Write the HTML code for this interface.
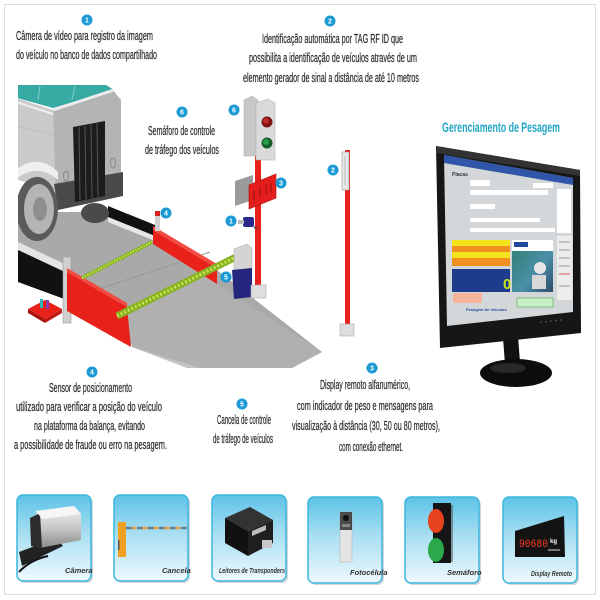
<!DOCTYPE html>
<html><head><meta charset="utf-8">
<style>
html,body{margin:0;padding:0;background:#fff;}
svg{display:block;}
.t{font-family:"Liberation Sans Narrow","Liberation Sans",sans-serif;font-size:12.5px;fill:#2e2e2e;stroke:#2e2e2e;stroke-width:0.25;}
.n{font-family:"Liberation Sans",sans-serif;font-size:7px;font-weight:bold;fill:#fff;text-anchor:middle;}
.c{font-family:"Liberation Sans",sans-serif;font-size:7.5px;font-style:italic;font-weight:bold;fill:#333;}
.s{font-family:"Liberation Sans",sans-serif;font-size:4px;fill:#333;}
</style></head>
<body>
<svg width="600" height="600" viewBox="0 0 600 600" xmlns="http://www.w3.org/2000/svg">
<defs>
<linearGradient id="card" x1="0" y1="0" x2="0" y2="1">
<stop offset="0" stop-color="#5cc3e6"/><stop offset="0.45" stop-color="#a8def2"/><stop offset="1" stop-color="#eef9fd"/>
</linearGradient>
<linearGradient id="silver" x1="0" y1="0" x2="0" y2="1">
<stop offset="0" stop-color="#f4f4f4"/><stop offset="0.5" stop-color="#c9c9c9"/><stop offset="1" stop-color="#8a8a8a"/>
</linearGradient>
<linearGradient id="photo" x1="0" y1="0" x2="1" y2="1">
<stop offset="0" stop-color="#2d7d6c"/><stop offset="0.6" stop-color="#4a8fa8"/><stop offset="1" stop-color="#2c4c6a"/>
</linearGradient>
<clipPath id="truckclip"><rect x="18" y="0" width="600" height="600"/></clipPath>
</defs>

<!-- frame -->
<rect x="4.5" y="4.5" width="591" height="590" fill="none" stroke="#dedede"/>

<!-- ===== platform ===== -->
<polygon points="18,212 110,212 153,232 217,270 322,352 292,368 187,368 132,345 67,290 18,268" fill="#a9a9a9"/>
<polygon points="130,335 200,368 187,368 132,347" fill="#c4c4c4"/>
<polygon points="217,284 322,352 292,368 200,368 132,347 127,312 217,270" fill="#b0b0b0"/>
<line x1="90" y1="292" x2="210" y2="252" stroke="#999" stroke-width="1"/>

<!-- black beams -->
<polygon points="18,242 67,265 67,273 18,250" fill="#e4e4e4"/>
<polygon points="18,250 67,273 67,300 18,282" fill="#111"/>
<polygon points="108,206 155,225 155,236 108,217" fill="#111"/>
<polygon points="108,217 155,236 155,241 108,222" fill="#e6e6e6"/>

<!-- truck -->
<g clip-path="url(#truckclip)">
<polygon points="10,85 106,85 114,90 53,108 10,96" fill="#37aaa4"/>
<line x1="40" y1="86" x2="38" y2="100" stroke="#7fd0cc" stroke-width="1"/>
<line x1="75" y1="86" x2="72" y2="100" stroke="#7fd0cc" stroke-width="1"/>
<polygon points="10,96 53,110 56,190 10,178" fill="#cacaca"/>
<polygon points="53,110 113,90 121,100 121,188 56,198" fill="#b4b4b4"/>
<line x1="53" y1="110" x2="114" y2="90" stroke="#ececec" stroke-width="3"/>
<line x1="10" y1="100" x2="53" y2="114" stroke="#eeeeee" stroke-width="2"/>
<line x1="10" y1="125" x2="55" y2="135" stroke="#bdbdbd" stroke-width="1"/>
<!-- bumper -->
<polygon points="54,184 123,172 123,196 58,210" fill="#4a4a4a"/>
<!-- grille -->
<polygon points="73,127 105,121 105,196 75,202" fill="#1c1c1c"/>
<g stroke="#555" stroke-width="1">
<line x1="79" y1="127" x2="80" y2="200"/><line x1="85" y1="126" x2="86" y2="199"/>
<line x1="91" y1="124" x2="92" y2="198"/><line x1="97" y1="123" x2="98" y2="197"/>
</g>
<ellipse cx="66" cy="176" rx="2.5" ry="5" fill="none" stroke="#888"/>
<ellipse cx="113" cy="163" rx="2.5" ry="5" fill="none" stroke="#888"/>
<!-- fender -->
<path d="M10,175 Q35,150 58,172 L58,180 Q35,160 10,184 Z" fill="#efefef"/>
<!-- wheels -->
<ellipse cx="95" cy="213" rx="14" ry="10" fill="#4a4a4a"/>
<ellipse cx="37" cy="209" rx="21" ry="32" fill="#5a5a5a"/>
<ellipse cx="39" cy="209" rx="15" ry="25" fill="#b4b4b4"/>
<ellipse cx="40" cy="209" rx="7" ry="12" fill="#8e8e8e"/>
</g>

<!-- left red pad -->
<polygon points="28,309 45,300 62,309 45,319" fill="#e8221b"/>
<polygon points="28,309 45,319 45,323 28,313" fill="#a8120e"/>
<polygon points="45,319 62,309 62,313 45,323" fill="#c01a14"/>
<rect x="40" y="299" width="3" height="9" fill="#34b3b0"/>
<rect x="46" y="300" width="3" height="9" fill="#8a3bb0"/>

<!-- left post -->
<rect x="63" y="257" width="8" height="66" fill="#cfcfcf" stroke="#9c9c9c" stroke-width="0.6"/>

<!-- red blocks -->
<polygon points="67,272 127,307 131,347 67,311" fill="#e8221b"/>
<polygon points="67,268 127,303 127,307 67,272" fill="#f24a40"/>
<polygon points="153,230 217,268 217,284 153,244" fill="#e8221b"/>
<polygon points="153,226 217,264 217,268 153,230" fill="#f24a40"/>
<rect x="155" y="213" width="5" height="18" fill="#d0d0d0"/>
<rect x="155" y="211" width="5" height="5" fill="#d92020"/>

<!-- green beams -->
<line x1="82" y1="278" x2="152" y2="242" stroke="#86b21f" stroke-width="4"/>
<line x1="82" y1="278" x2="152" y2="242" stroke="#c8e25a" stroke-width="2" stroke-dasharray="1.5 1.5"/>
<line x1="117" y1="316" x2="238" y2="256" stroke="#86b21f" stroke-width="7"/>
<line x1="117" y1="316" x2="238" y2="256" stroke="#c8e25a" stroke-width="3" stroke-dasharray="2 2"/>

<!-- barrier box -->
<polygon points="234,249 247,244 252,248 252,268 234,271" fill="#d4d4d4" stroke="#aaa" stroke-width="0.5"/>
<polygon points="232,270 252,268 252,297 234,299" fill="#25267e"/>

<!-- traffic light pole -->
<rect x="255" y="155" width="6" height="132" fill="#e8221b"/>
<rect x="251" y="285" width="15" height="13" fill="#dedede" stroke="#aaa" stroke-width="0.6"/>
<polygon points="244,100 252,96 258,100 258,156 244,156" fill="#c8c8c8" stroke="#aaa" stroke-width="0.5"/>
<polygon points="256,103 268,99 275,103 275,160 256,160" fill="#dadada" stroke="#aaa" stroke-width="0.5"/>
<circle cx="267" cy="122" r="5.5" fill="#7c1616"/><circle cx="266" cy="121" r="3" fill="#c02a2a"/>
<circle cx="267" cy="143" r="5.5" fill="#145f2c"/><circle cx="266" cy="142" r="3" fill="#2aa04a"/>
<!-- display -->
<polygon points="235,181 253,175 253,200 235,206" fill="#9b9b9b"/>
<polygon points="249,185 276,174 276,198 249,209" fill="#e41d1d" stroke="#b01010" stroke-width="0.6"/>
<g stroke="#9a1010" stroke-width="1"><line x1="254" y1="190" x2="254" y2="200"/><line x1="260" y1="187" x2="260" y2="197"/><line x1="266" y1="185" x2="266" y2="195"/><line x1="271" y1="183" x2="271" y2="193"/></g>
<!-- camera -->
<rect x="243" y="217" width="11" height="10" rx="2" fill="#2a2a8c"/>
<rect x="238" y="220" width="6" height="4" fill="#bbb"/>
<line x1="254" y1="227" x2="257" y2="229" stroke="#444" stroke-width="1.5"/>

<!-- pole 2 -->
<rect x="345" y="150" width="5" height="178" fill="#e8221b"/>
<rect x="342" y="152" width="7" height="38" fill="#e9e9e9" stroke="#999" stroke-width="0.6"/>
<line x1="345" y1="156" x2="345" y2="186" stroke="#bbb" stroke-width="1"/>
<rect x="340" y="324" width="14" height="12" fill="#dedede" stroke="#aaa" stroke-width="0.6"/>

<!-- number badges -->
<g>
<circle cx="87" cy="20" r="5.5" fill="#1b9ad6"/><text class="n" x="87" y="22.5">1</text>
<circle cx="330" cy="21" r="5.5" fill="#1b9ad6"/><text class="n" x="330" y="23.5">2</text>
<circle cx="182" cy="112" r="5.5" fill="#1b9ad6"/><text class="n" x="182" y="114.5">6</text>
<circle cx="234" cy="110" r="5.5" fill="#1b9ad6"/><text class="n" x="234" y="112.5">6</text>
<circle cx="281" cy="183" r="5.5" fill="#1b9ad6"/><text class="n" x="281" y="185.5">3</text>
<circle cx="231" cy="221" r="5.5" fill="#1b9ad6"/><text class="n" x="231" y="223.5">1</text>
<circle cx="166" cy="213" r="5.5" fill="#1b9ad6"/><text class="n" x="166" y="215.5">4</text>
<circle cx="226" cy="277" r="5.5" fill="#1b9ad6"/><text class="n" x="226" y="279.5">5</text>
<circle cx="333" cy="170" r="5.5" fill="#1b9ad6"/><text class="n" x="333" y="172.5">2</text>
<circle cx="92" cy="372" r="5.5" fill="#1b9ad6"/><text class="n" x="92" y="374.5">4</text>
<circle cx="242" cy="404" r="5.5" fill="#1b9ad6"/><text class="n" x="242" y="406.5">5</text>
<circle cx="372" cy="368" r="5.5" fill="#1b9ad6"/><text class="n" x="372" y="370.5">3</text>
</g>

<!-- texts -->
<text class="t" x="16" y="40" textLength="137" lengthAdjust="spacingAndGlyphs">Câmera de vídeo para registro da imagem</text>
<text class="t" x="16" y="59" textLength="141" lengthAdjust="spacingAndGlyphs">do veículo no banco de dados compartilhado</text>

<text class="t" x="262" y="43" textLength="141" lengthAdjust="spacingAndGlyphs">Identificação automática  por TAG  RF ID que</text>
<text class="t" x="249" y="62" textLength="168" lengthAdjust="spacingAndGlyphs">possibilita a identificação de veículos através de um</text>
<text class="t" x="243" y="82" textLength="176" lengthAdjust="spacingAndGlyphs">elemento gerador de sinal a distância de até 10 metros</text>

<text class="t" x="148" y="135" textLength="67" lengthAdjust="spacingAndGlyphs">Semáforo de controle</text>
<text class="t" x="145" y="154" textLength="74" lengthAdjust="spacingAndGlyphs">de tráfego dos veículos</text>

<text class="t" x="49" y="392" textLength="83" lengthAdjust="spacingAndGlyphs">Sensor de posicionamento</text>
<text class="t" x="16" y="411" textLength="146" lengthAdjust="spacingAndGlyphs">utilizado para verificar a posição do veículo</text>
<text class="t" x="34" y="430" textLength="111" lengthAdjust="spacingAndGlyphs">na plataforma da balança, evitando</text>
<text class="t" x="14" y="449" textLength="153" lengthAdjust="spacingAndGlyphs">a possibilidade de fraude ou erro na pesagem.</text>

<text class="t" x="217" y="424" textLength="54" lengthAdjust="spacingAndGlyphs">Cancela de controle</text>
<text class="t" x="213" y="443" textLength="60" lengthAdjust="spacingAndGlyphs">de tráfego de veículos</text>

<text class="t" x="320" y="389" textLength="90" lengthAdjust="spacingAndGlyphs">Display remoto alfanumérico,</text>
<text class="t" x="297" y="410" textLength="136" lengthAdjust="spacingAndGlyphs">com indicador de peso e mensagens para</text>
<text class="t" x="292" y="430" textLength="148" lengthAdjust="spacingAndGlyphs">visualização à distância (30, 50 ou 80 metros),</text>
<text class="t" x="339" y="451" textLength="64" lengthAdjust="spacingAndGlyphs">com conexão ethernet.</text>

<text x="442" y="132" textLength="118" lengthAdjust="spacingAndGlyphs" style="font-family:'Liberation Sans Narrow','Liberation Sans',sans-serif;font-size:14px;font-weight:bold;fill:#22a6c4;">Gerenciamento de Pesagem</text>

<!-- ===== monitor ===== -->
<polygon points="503,338 518,336 520,362 505,364" fill="#111"/>
<ellipse cx="516" cy="373" rx="36" ry="14" fill="#0d0d0d"/>
<ellipse cx="508" cy="368" rx="18" ry="5" fill="#3a3a3a" opacity="0.6"/>
<polygon points="436,146 580,170 581,333 440,348" fill="#161616"/>
<polygon points="436,146 580,170 580,176 437,153" fill="#333"/>
<polygon points="444,155 573,178 573,312 447,326" fill="#d4d7da"/>
<polygon points="444,155 573,178 573,185 444,163" fill="#2f56a8"/>
<text class="s" x="452" y="176" style="font-weight:bold;font-size:5px;">Placas</text>
<rect x="470" y="180" width="20" height="6" fill="#fff"/>
<rect x="470" y="190" width="78" height="5" fill="#fff"/>
<rect x="533" y="183" width="20" height="5" fill="#fff"/>
<rect x="470" y="204" width="25" height="5" fill="#fff"/>
<rect x="470" y="218" width="70" height="4" fill="#fff"/>
<rect x="470" y="228" width="85" height="4" fill="#fff"/>
<rect x="557" y="189" width="14" height="44" fill="#fff"/>
<rect x="557" y="236" width="15" height="64" fill="#ececec"/>
<g stroke="#888" stroke-width="0.8">
<line x1="559" y1="242" x2="570" y2="242"/><line x1="559" y1="250" x2="570" y2="250"/><line x1="559" y1="258" x2="570" y2="258"/><line x1="559" y1="266" x2="570" y2="266"/>
<line x1="559" y1="274" x2="570" y2="274" stroke="#c33"/><line x1="559" y1="286" x2="570" y2="286"/>
</g>
<rect x="452" y="240" width="58" height="6" fill="#f3e21c"/>
<rect x="452" y="246" width="58" height="6" fill="#f0901e"/>
<rect x="452" y="252" width="58" height="6" fill="#f3e21c"/>
<rect x="452" y="258" width="58" height="8" fill="#f0901e"/>
<rect x="452" y="269" width="58" height="23" fill="#1d3d8c"/>
<text x="503" y="289" style="font-family:'Liberation Sans',sans-serif;font-size:15px;font-weight:bold;fill:#c8e020;">0</text>
<rect x="512" y="240" width="41" height="52" fill="url(#photo)"/>
<rect x="512" y="240" width="41" height="11" fill="#fff"/>
<rect x="514" y="242" width="14" height="5" fill="#1d4b9a"/>
<circle cx="540" cy="268" r="6" fill="#e6e6e6"/>
<rect x="532" y="275" width="14" height="14" fill="#d8d8d8"/>
<rect x="453" y="293" width="29" height="10" fill="#f5b39a"/>
<rect x="517" y="298" width="36" height="9" fill="#c8efc8" stroke="#4aa84a" stroke-width="0.6"/>
<text class="s" x="466" y="311" style="fill:#1d4b9a;font-weight:bold;">Pesagem de Veículos</text>
<g fill="#666"><circle cx="541" cy="322" r="0.8"/><circle cx="546" cy="321.5" r="0.8"/><circle cx="551" cy="321" r="0.8"/><circle cx="556" cy="320.5" r="0.8"/><circle cx="561" cy="320" r="0.8"/></g>

<!-- ===== cards ===== -->
<g>
<rect x="19" y="497" width="74" height="86" rx="6" fill="#d0d6da"/>
<rect x="17" y="495" width="74" height="86" rx="6" fill="url(#card)" stroke="#3db6de" stroke-width="1.5"/>
<rect x="116" y="497" width="74" height="86" rx="6" fill="#d0d6da"/>
<rect x="114" y="495" width="74" height="86" rx="6" fill="url(#card)" stroke="#3db6de" stroke-width="1.5"/>
<rect x="214" y="497" width="74" height="86" rx="6" fill="#d0d6da"/>
<rect x="212" y="495" width="74" height="86" rx="6" fill="url(#card)" stroke="#3db6de" stroke-width="1.5"/>
<rect x="310" y="499" width="74" height="86" rx="6" fill="#d0d6da"/>
<rect x="308" y="497" width="74" height="86" rx="6" fill="url(#card)" stroke="#3db6de" stroke-width="1.5"/>
<rect x="407" y="499" width="74" height="86" rx="6" fill="#d0d6da"/>
<rect x="405" y="497" width="74" height="86" rx="6" fill="url(#card)" stroke="#3db6de" stroke-width="1.5"/>
<rect x="505" y="499" width="74" height="86" rx="6" fill="#d0d6da"/>
<rect x="503" y="497" width="74" height="86" rx="6" fill="url(#card)" stroke="#3db6de" stroke-width="1.5"/>
</g>

<!-- card 1 camera -->
<path d="M19,572 Q30,560 48,556" stroke="#111" stroke-width="2" fill="none"/>
<polygon points="19,552 56,538 63,546 22,566" fill="#222"/>
<polygon points="36,511 74,506 81,514 81,540 40,548" fill="url(#silver)"/>
<polygon points="30,518 40,513 42,548 31,546" fill="#2c2c2c"/>
<polygon points="36,511 74,506 81,514 42,519" fill="#f6f6f6"/>
<text class="c" x="65" y="573">Câmera</text>

<!-- card 2 barrier -->
<rect x="118" y="522" width="8" height="35" fill="#f0a020"/>
<rect x="118" y="540" width="1.5" height="10" fill="#555"/>
<line x1="126" y1="528" x2="187" y2="528" stroke="#5f8196" stroke-width="2.5" stroke-dasharray="6 5"/>
<line x1="131.5" y1="528" x2="187" y2="528" stroke="#e8a040" stroke-width="2.5" stroke-dasharray="5 6"/>
<text class="c" x="162" y="573">Cancela</text>

<!-- card 3 transponder -->
<polygon points="225,518 250,507 273,520 248,531" fill="#333"/>
<polygon points="225,518 248,531 248,556 225,543" fill="#111"/>
<polygon points="248,531 273,520 273,543 248,556" fill="#1f1f1f"/>
<polygon points="252,531 266,525 266,530 252,536" fill="#bbb"/>
<rect x="262" y="540" width="10" height="8" fill="#c8c8c8"/>
<text class="c" x="219" y="573" textLength="66" lengthAdjust="spacingAndGlyphs">Leitores de Transponders</text>

<!-- card 4 photocell -->
<rect x="340" y="512" width="12" height="50" fill="#e4e4e4" stroke="#b5b5b5" stroke-width="0.6"/>
<rect x="340" y="512" width="12" height="18" fill="#4a4a4a"/>
<circle cx="346" cy="518" r="3" fill="#111"/>
<rect x="342" y="524" width="8" height="3" fill="#888"/>
<text class="c" x="350" y="575">Fotocélula</text>

<!-- card 5 traffic light -->
<rect x="433" y="503" width="18" height="60" fill="#151515"/>
<line x1="452" y1="505" x2="452" y2="562" stroke="#444" stroke-width="1"/>
<ellipse cx="436" cy="521" rx="8" ry="12" fill="#e8421e"/>
<ellipse cx="436" cy="550" rx="8" ry="12" fill="#2aa84a"/>
<text class="c" x="447" y="575">Semáforo</text>

<!-- card 6 display -->
<polygon points="515,531 564,516 565,557 515,557" fill="#131313"/>
<text x="519" y="547" textLength="29" lengthAdjust="spacingAndGlyphs" style="font-family:'Liberation Mono',monospace;font-size:11px;fill:#ff3a22;">90680</text>
<text x="550" y="543" style="font-family:'Liberation Sans',sans-serif;font-size:6px;font-weight:bold;fill:#fff;">kg</text>
<rect x="548" y="549" width="12" height="2" fill="#777"/>
<text class="c" x="531" y="576" textLength="41" lengthAdjust="spacingAndGlyphs">Display Remoto</text>
</svg>
</body></html>
